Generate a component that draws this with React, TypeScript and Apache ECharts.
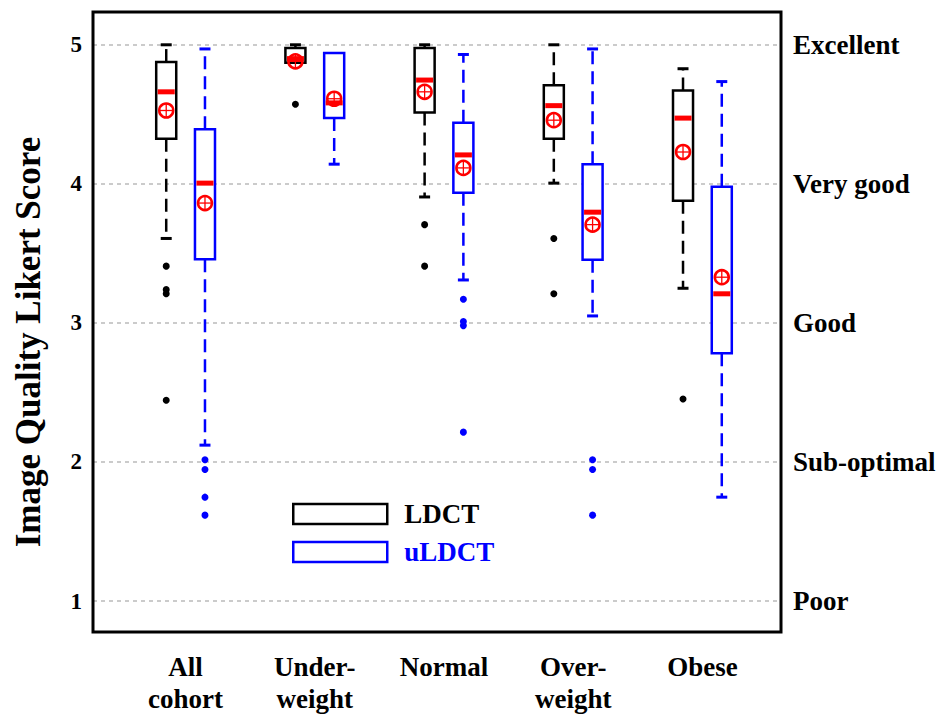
import React, { useEffect, useRef } from 'react';
import * as echarts from 'echarts';

const categories = ['All\ncohort', 'Under-\nweight', 'Normal', 'Over-\nweight', 'Obese'];
const yTicks = [1, 2, 3, 4, 5];
const qualityLabels = ['Poor', 'Sub-optimal', 'Good', 'Very good', 'Excellent'];

// [min whisker, Q1, median, Q3, max whisker]
const ldctBox = [
  [3.6, 4.32, 4.66, 4.875, 5.0],
  [4.87, 4.87, 4.9, 4.976, 5.0],
  [3.9, 4.51, 4.745, 4.976, 5.0],
  [4.0, 4.32, 4.56, 4.707, 5.0],
  [3.24, 3.873, 4.47, 4.67, 4.827],
];
const ldctMean = [4.525, 4.88, 4.66, 4.455, 4.225];

const uldctBox = [
  [2.106, 3.45, 4.0, 4.39, 4.97],
  [4.137, 4.47, 4.58, 4.94, 4.94],
  [3.3, 3.93, 4.204, 4.437, 4.93],
  [3.04, 3.446, 3.79, 4.137, 4.97],
  [1.73, 2.77, 3.2, 3.973, 4.734],
];
const uldctMean = [3.856, 4.61, 4.11, 3.7, 3.32];

// [category index, value]
const ldctOutliers = [
  [0, 3.4], [0, 3.23], [0, 3.2], [0, 2.43],
  [1, 4.57],
  [2, 3.7], [2, 3.4],
  [3, 3.6], [3, 3.2],
  [4, 2.44],
];
const uldctOutliers = [
  [0, 2.0], [0, 1.93], [0, 1.73], [0, 1.6],
  [2, 3.16], [2, 3.0], [2, 2.97], [2, 2.2],
  [3, 2.0], [3, 1.93], [3, 1.6],
];

const Y_MIN = 0.777;
const Y_MAX = 5.237;
const FONT = '"Liberation Serif", "Times New Roman", serif';
const BLACK = '#000000';
const BLUE = '#0000ff';
const RED = '#ff0000';
const OFFSET_FRAC = 0.15;

function makeRender(side: number, color: string) {
  return (params: any, api: any) => {
    const i = api.value(0);
    const mn = api.value(1);
    const q1 = api.value(2);
    const md = api.value(3);
    const q3 = api.value(4);
    const mx = api.value(5);
    const mean = api.value(6);
    const band = api.size([1, 0])[0];
    const cx = api.coord([i, md])[0] + side * OFFSET_FRAC * band;
    const y = (v: number) => api.coord([i, v])[1];
    const bw = band * 0.155;
    const cw = band * 0.085;
    const children: any[] = [];
    const dashStyle = { stroke: color, lineWidth: 2.5, lineDash: [13, 7] };
    const capStyle = { stroke: color, lineWidth: 3 };
    if (mx - q3 > 0.005) {
      children.push({ type: 'line', shape: { x1: cx, y1: y(q3), x2: cx, y2: y(mx) }, style: dashStyle });
      children.push({ type: 'line', shape: { x1: cx - cw / 2, y1: y(mx), x2: cx + cw / 2, y2: y(mx) }, style: capStyle });
    }
    if (q1 - mn > 0.005) {
      children.push({ type: 'line', shape: { x1: cx, y1: y(q1), x2: cx, y2: y(mn) }, style: dashStyle });
      children.push({ type: 'line', shape: { x1: cx - cw / 2, y1: y(mn), x2: cx + cw / 2, y2: y(mn) }, style: capStyle });
    }
    children.push({
      type: 'rect',
      shape: { x: cx - bw / 2, y: y(q3), width: bw, height: y(q1) - y(q3) },
      style: { fill: '#ffffff', stroke: color, lineWidth: 2.5 },
    });
    children.push({
      type: 'rect',
      shape: { x: cx - bw / 2 + 1.5, y: y(md) - 2.5, width: bw - 3, height: 5 },
      style: { fill: RED },
    });
    const my = y(mean);
    const r = 7;
    children.push({ type: 'circle', shape: { cx, cy: my, r }, style: { fill: 'none', stroke: RED, lineWidth: 2.5 } });
    children.push({ type: 'line', shape: { x1: cx - r, y1: my, x2: cx + r, y2: my }, style: { stroke: RED, lineWidth: 1.3 } });
    children.push({ type: 'line', shape: { x1: cx, y1: my - r, x2: cx, y2: my + r }, style: { stroke: RED, lineWidth: 1.3 } });
    return { type: 'group', children };
  };
}

export default function App() {
  const ref = useRef<HTMLDivElement>(null);
  useEffect(() => {
    if (!ref.current) return;
    const chart = echarts.init(ref.current, null, { renderer: 'svg' });
    const ldctData = categories.map((_, i) => [i, ...ldctBox[i], ldctMean[i]]);
    const uldctData = categories.map((_, i) => [i, ...uldctBox[i], uldctMean[i]]);
    const bandPx = 646 / categories.length;
    const off = OFFSET_FRAC * bandPx;
    const intLabel = (v: number) => (Math.abs(v - Math.round(v)) < 1e-6 && yTicks.includes(Math.round(v)) ? String(Math.round(v)) : '');
    chart.setOption({
      animation: false,
      backgroundColor: '#ffffff',
      grid: [
        { left: 93, top: 12, width: 688, height: 620, show: true, borderColor: BLACK, borderWidth: 3, backgroundColor: 'transparent', z: 10 },
        { left: 121, top: 12, width: 646, height: 620 },
      ],
      legend: {
        orient: 'vertical',
        left: 287,
        top: 495,
        itemWidth: 94,
        itemHeight: 20,
        itemGap: 10,
        icon: 'rect',
        selectedMode: false,
        textStyle: { fontFamily: FONT, fontWeight: 'bold', fontSize: 27, lineHeight: 28, padding: [0, 0, 0, 12] },
        data: [
          { name: 'LDCT', icon: 'rect', itemStyle: { color: '#ffffff', borderColor: BLACK, borderWidth: 2.5 }, textStyle: { color: BLACK } },
          { name: 'uLDCT', icon: 'rect', itemStyle: { color: '#ffffff', borderColor: BLUE, borderWidth: 2.5 }, textStyle: { color: BLUE } },
        ],
      },
      xAxis: [
        { gridIndex: 0, type: 'value', min: 0, max: 1, show: false },
        {
          gridIndex: 1,
          type: 'category',
          data: categories,
          axisLine: { show: false },
          axisTick: { show: false },
          splitLine: { show: false },
          axisLabel: { fontFamily: FONT, fontWeight: 'bold', fontSize: 27, color: BLACK, margin: 22, lineHeight: 32, interval: 0 },
        },
      ],
      yAxis: [
        {
          gridIndex: 0,
          type: 'value',
          min: Y_MIN,
          max: Y_MAX,
          minInterval: 1,
          maxInterval: 1,
          position: 'left',
          axisLine: { show: false },
          axisTick: { show: false },
          axisLabel: { formatter: intLabel, fontFamily: FONT, fontWeight: 'bold', fontSize: 23, color: BLACK, margin: 11 },
          splitLine: { show: true, lineStyle: { color: '#bbbbbb', type: [4, 4], width: 1.5 } },
        },
        {
          gridIndex: 0,
          type: 'value',
          min: Y_MIN,
          max: Y_MAX,
          minInterval: 1,
          maxInterval: 1,
          position: 'right',
          axisLine: { show: false },
          axisTick: { show: false },
          splitLine: { show: false },
          axisLabel: {
            formatter: (v: number) => {
              const s = intLabel(v);
              return s ? qualityLabels[yTicks.indexOf(Number(s))] : '';
            },
            fontFamily: FONT,
            fontWeight: 'bold',
            fontSize: 27,
            color: BLACK,
            margin: 12,
          },
        },
        { gridIndex: 1, type: 'value', min: Y_MIN, max: Y_MAX, show: false },
      ],
      graphic: [
        {
          type: 'text',
          x: 28,
          y: 342,
          rotation: Math.PI / 2,
          style: {
            text: 'Image Quality Likert Score',
            font: `bold 35px ${FONT}`,
            fill: BLACK,
            textAlign: 'center',
            textVerticalAlign: 'middle',
          },
        },
      ],
      series: [
        {
          name: 'LDCT',
          type: 'custom',
          xAxisIndex: 1,
          yAxisIndex: 2,
          renderItem: makeRender(-1, BLACK),
          encode: { x: 0, y: [1, 2, 3, 4, 5, 6] },
          itemStyle: { color: '#ffffff', borderColor: BLACK },
          data: ldctData,
          z: 3,
        },
        {
          name: 'uLDCT',
          type: 'custom',
          xAxisIndex: 1,
          yAxisIndex: 2,
          renderItem: makeRender(1, BLUE),
          encode: { x: 0, y: [1, 2, 3, 4, 5, 6] },
          itemStyle: { color: '#ffffff', borderColor: BLUE },
          data: uldctData,
          z: 3,
        },
        {
          name: 'LDCT',
          type: 'scatter',
          xAxisIndex: 1,
          yAxisIndex: 2,
          symbol: 'circle',
          symbolSize: 7,
          symbolOffset: [-off, 0],
          itemStyle: { color: BLACK, opacity: 1 },
          data: ldctOutliers,
          z: 4,
        },
        {
          name: 'uLDCT',
          type: 'scatter',
          xAxisIndex: 1,
          yAxisIndex: 2,
          symbol: 'circle',
          symbolSize: 7,
          symbolOffset: [off, 0],
          itemStyle: { color: BLUE, opacity: 1 },
          data: uldctOutliers,
          z: 4,
        },
      ],
    });
    return () => chart.dispose();
  }, []);
  return <div ref={ref} style={{ position: 'fixed', left: 0, top: 0, width: 945, height: 715, background: '#ffffff' }} />;
}
